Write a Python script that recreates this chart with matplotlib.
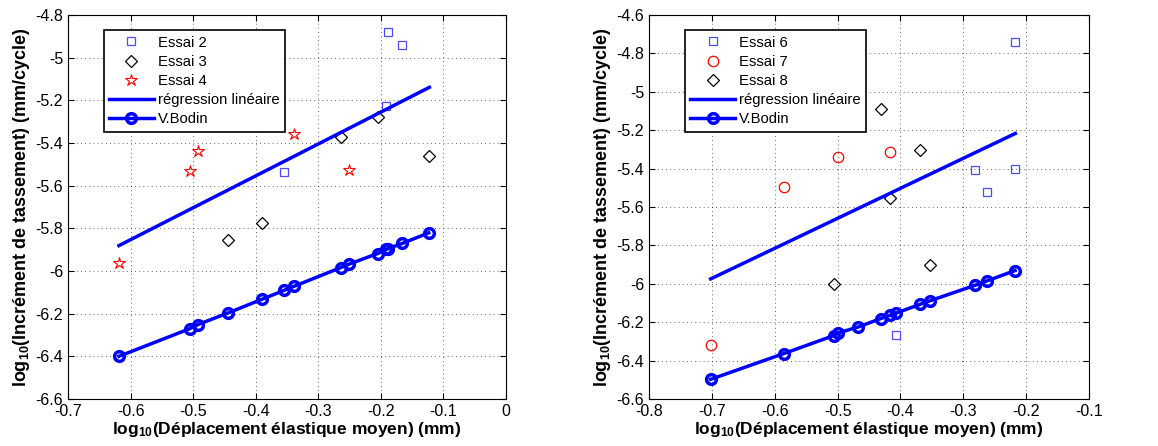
import matplotlib
matplotlib.use("Agg")
import matplotlib.pyplot as plt
from matplotlib.ticker import FormatStrFormatter

plt.rcParams['font.family'] = ['Liberation Sans', 'DejaVu Sans']
plt.rcParams['mathtext.fontset'] = 'custom'
plt.rcParams['mathtext.rm'] = 'Liberation Sans'
plt.rcParams['mathtext.bf'] = 'Liberation Sans:bold'

# ---- Left chart data ----
e2_x = [-0.1885, -0.166, -0.191, -0.354]
e2_y = [-4.881, -4.941, -5.227, -5.537]
e3_x = [-0.205, -0.264, -0.1235, -0.390, -0.4445]
e3_y = [-5.280, -5.372, -5.460, -5.777, -5.8525]
e4_x = [-0.3386, -0.4924, -0.505, -0.251, -0.6186]
e4_y = [-5.357, -5.4365, -5.530, -5.527, -5.9605]
regL_x = [-0.6186, -0.1224]
regL_y = [-5.881, -5.139]
bodL_x = [-0.6186, -0.505, -0.4924, -0.4445, -0.390, -0.354, -0.3386,
          -0.264, -0.251, -0.205, -0.191, -0.1885, -0.166, -0.1235]
bodL_y = [-6.400, -6.270, -6.251, -6.197, -6.1325, -6.090, -6.0715,
          -5.984, -5.968, -5.918, -5.899, -5.895, -5.871, -5.821]

# ---- Right chart data ----
e6_x = [-0.2177, -0.2177, -0.281, -0.2623, -0.4076]
e6_y = [-4.739, -5.401, -5.408, -5.521, -6.268]
e7_x = [-0.467, -0.499, -0.416, -0.5858, -0.7019]
e7_y = [-5.090, -5.340, -5.316, -5.498, -6.320]
e8_x = [-0.4314, -0.3683, -0.416, -0.3535, -0.5062]
e8_y = [-5.090, -5.3055, -5.554, -5.8997, -6.0005]
regR_x = [-0.7019, -0.2172]
regR_y = [-5.9745, -5.217]
bodR_x = [-0.7019, -0.5858, -0.5062, -0.499, -0.467, -0.4314, -0.416,
          -0.4076, -0.3683, -0.3535, -0.281, -0.2623, -0.2177]
bodR_y = [-6.4975, -6.3637, -6.2699, -6.256, -6.2247, -6.1812, -6.1638,
          -6.1534, -6.1065, -6.089, -6.0075, -5.985, -5.931]

xlabel = r'$\mathbf{log_{10}}$(Déplacement élastique moyen) (mm)'
ylabel = r'$\mathbf{log_{10}}$(Incrément de tassement) (mm/cycle)'

fig = plt.figure(figsize=(11.58, 4.46), dpi=100)
axL = fig.add_axes([68/1158, 47/446, 438/1158, 384/446])
axR = fig.add_axes([649/1158, 47/446, 440/1158, 384/446])

sq_kw = dict(marker='s', linestyle='none', mfc='none', mec='#4a4aff', ms=5.5, mew=0.9)
dm_kw = dict(marker='D', linestyle='none', mfc='none', mec='black', ms=6.5, mew=0.9)
st_kw = dict(marker='*', linestyle='none', mfc='none', mec='red', ms=9, mew=0.8)
ci_kw = dict(marker='o', linestyle='none', mfc='none', mec='red', ms=7.5, mew=0.9)
reg_kw = dict(color='#0000ff', lw=2.5)
bod_kw = dict(color='#0000ff', lw=2.5, marker='o', ms=7, mfc='none', mew=2.5)

# Left
axL.plot(e2_x, e2_y, label='Essai 2', **sq_kw)
axL.plot(e3_x, e3_y, label='Essai 3', **dm_kw)
axL.plot(e4_x, e4_y, label='Essai 4', **st_kw)
axL.plot(regL_x, regL_y, label='régression linéaire', **reg_kw)
axL.plot(bodL_x, bodL_y, label='V.Bodin', **bod_kw)
axL.set_xlim(-0.7, 0)
axL.set_ylim(-6.6, -4.8)
axL.set_xticks([-0.7, -0.6, -0.5, -0.4, -0.3, -0.2, -0.1, 0])
axL.set_yticks([-6.6, -6.4, -6.2, -6.0, -5.8, -5.6, -5.4, -5.2, -5.0, -4.8])

# Right
axR.plot(e6_x, e6_y, label='Essai 6', **sq_kw)
axR.plot(e7_x, e7_y, label='Essai 7', **ci_kw)
axR.plot(e8_x, e8_y, label='Essai 8', **dm_kw)
axR.plot(regR_x, regR_y, label='régression linéaire', **reg_kw)
axR.plot(bodR_x, bodR_y, label='V.Bodin', **bod_kw)
axR.set_xlim(-0.8, -0.1)
axR.set_ylim(-6.6, -4.6)
axR.set_xticks([-0.8, -0.7, -0.6, -0.5, -0.4, -0.3, -0.2, -0.1])
axR.set_yticks([-6.6, -6.4, -6.2, -6.0, -5.8, -5.6, -5.4, -5.2, -5.0, -4.8, -4.6])

for ax in (axL, axR):
    ax.xaxis.set_major_formatter(FormatStrFormatter('%g'))
    ax.yaxis.set_major_formatter(FormatStrFormatter('%g'))
    ax.grid(True, color='black', linestyle=(0, (1, 4)), lw=0.6, alpha=0.8)
    ax.tick_params(direction='in', top=True, right=True, labelsize=11.5, length=4)
    for s in ax.spines.values():
        s.set_linewidth(0.8)
    ax.set_xlabel(xlabel, fontsize=12.5, fontweight='bold', labelpad=1)
    ax.set_ylabel(ylabel, fontsize=13, fontweight='bold', labelpad=2)
    leg = ax.legend(loc='upper left', bbox_to_anchor=(0.082, 0.96), fontsize=10.7,
                    frameon=True, fancybox=False, edgecolor='black', framealpha=1,
                    handlelength=3.0, borderpad=0.35, labelspacing=0.35,
                    handletextpad=0.3, borderaxespad=0)
    leg.get_frame().set_linewidth(1.2)

fig.savefig('out.png', dpi=100)
